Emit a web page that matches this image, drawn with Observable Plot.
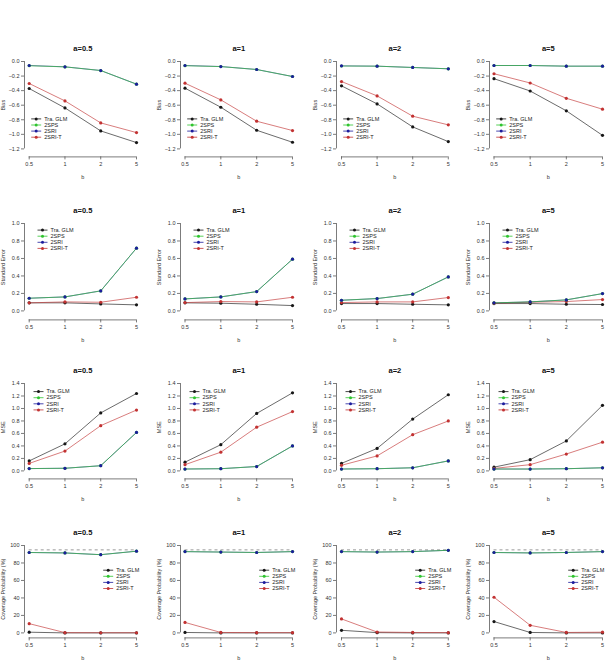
<!DOCTYPE html>
<html>
<head>
<meta charset="utf-8">
<script src="https://cdn.jsdelivr.net/npm/d3@7"></script>
<script src="https://cdn.jsdelivr.net/npm/@observablehq/plot@0.6"></script>
<style>
  body { margin: 0; background: #fff; }
  #grid { position: relative; width: 611px; height: 663px; overflow: hidden; background: #fff; }
  #grid svg { position: absolute; }
</style>
</head>
<body>
<div id="grid"></div>
<script>
// Categories
const bValues = ["0.5", "1", "2", "5"];
const aTitles = ["a=0.5", "a=1", "a=2", "a=5"];
const methods = ["Tra. GLM", "2SPS", "2SRI", "2SRI-T"];

// Bias: one inner array per a, values follow b
const biasTra   = [[-0.371, -0.637, -0.953, -1.113], [-0.366, -0.628, -0.944, -1.109], [-0.334, -0.582, -0.898, -1.100], [-0.236, -0.405, -0.677, -1.014]];
const bias2SPS  = [[-0.058, -0.074, -0.124, -0.311], [-0.058, -0.070, -0.110, -0.206], [-0.062, -0.064, -0.082, -0.100], [-0.055, -0.055, -0.064, -0.064]];
const bias2SRI  = [[-0.055, -0.073, -0.124, -0.311], [-0.055, -0.069, -0.110, -0.206], [-0.060, -0.064, -0.082, -0.100], [-0.055, -0.055, -0.064, -0.064]];
const bias2SRIT = [[-0.302, -0.541, -0.843, -0.976], [-0.298, -0.527, -0.820, -0.948], [-0.275, -0.472, -0.751, -0.870], [-0.168, -0.295, -0.505, -0.655]];

// Standard error
const seTra   = [[0.092, 0.092, 0.080, 0.069], [0.092, 0.088, 0.076, 0.061], [0.084, 0.084, 0.076, 0.069], [0.084, 0.084, 0.076, 0.073]];
const se2SPS  = [[0.145, 0.160, 0.229, 0.718], [0.137, 0.160, 0.221, 0.592], [0.122, 0.141, 0.191, 0.389], [0.092, 0.103, 0.126, 0.198]];
const se2SRI  = [[0.145, 0.160, 0.229, 0.718], [0.137, 0.160, 0.221, 0.592], [0.122, 0.141, 0.191, 0.389], [0.092, 0.103, 0.126, 0.198]];
const se2SRIT = [[0.092, 0.103, 0.099, 0.156], [0.095, 0.107, 0.103, 0.156], [0.095, 0.103, 0.103, 0.153], [0.088, 0.099, 0.107, 0.130]];

// Mean squared error
const mseTra   = [[0.160, 0.433, 0.929, 1.240], [0.140, 0.420, 0.920, 1.250], [0.120, 0.360, 0.830, 1.220], [0.060, 0.180, 0.480, 1.050]];
const mse2SPS  = [[0.037, 0.042, 0.083, 0.616], [0.030, 0.035, 0.070, 0.400], [0.030, 0.035, 0.050, 0.160], [0.030, 0.030, 0.035, 0.050]];
const mse2SRI  = [[0.037, 0.042, 0.083, 0.616], [0.030, 0.035, 0.070, 0.400], [0.030, 0.035, 0.050, 0.160], [0.030, 0.030, 0.035, 0.050]];
const mse2SRIT = [[0.120, 0.318, 0.725, 0.975], [0.100, 0.300, 0.700, 0.950], [0.090, 0.240, 0.580, 0.800], [0.040, 0.100, 0.270, 0.460]];

// Coverage probability (%)
const covTra   = [[0.8, 0, 0, 0], [0.5, 0, 0, 0], [3, 0.3, 0, 0], [13, 0.5, 0, 0]];
const cov2SPS  = [[92, 91.5, 89.5, 93.5], [93, 92.5, 92, 93], [93, 92.5, 93, 94.5], [92, 91.5, 92, 93]];
const cov2SRI  = [[92, 91.5, 89.5, 93.5], [93, 92.5, 92, 93], [93, 92.5, 93, 94.5], [92, 91.5, 92, 93]];
const cov2SRIT = [[10.6, 0.3, 0.2, 0.2], [12, 0.5, 0.3, 0.3], [16, 1, 0.5, 0.3], [40.8, 8.7, 0.5, 0.8]];
const nominalCoverage = 95;

// Row definitions: y label, axis extent, ticks and the series
const rows = [
  { label: "Bias", min: -1.2, max: 0, ticks: d3.range(-1.2, 0.01, 0.2), fmt: d3.format(".1f"),
    series: [biasTra, bias2SPS, bias2SRI, bias2SRIT] },
  { label: "Standard Error", min: 0, max: 1, ticks: d3.range(0, 1.01, 0.2), fmt: d3.format(".1f"),
    series: [seTra, se2SPS, se2SRI, se2SRIT] },
  { label: "MSE", min: 0, max: 1.4, ticks: d3.range(0, 1.41, 0.2), fmt: d3.format(".1f"),
    series: [mseTra, mse2SPS, mse2SRI, mse2SRIT] },
  { label: "Coverage Probability (%)", min: 0, max: 100, ticks: d3.range(0, 101, 20), fmt: d3.format("d"),
    series: [covTra, cov2SPS, cov2SRI, cov2SRIT], nominal: nominalCoverage }
];

// Page layout (pixels)
const colAxisX  = [24, 180, 335.5, 489];
const colFirstB = [28.7, 184.5, 340.5, 493.5];
const colLastB  = [136, 292, 447.3, 602];
const rowTopTick = [61.3, 222.7, 383.2, 545.3];
const tickSpan = 87.4;
const rowAxisGap = [8, 9, 8, 5];
// legend placement relative to the y axis line and top tick
const legendPos = [
  { x: 6.7, y: 57.4 },
  { x: 13, y: 6.6 },
  { x: 9, y: 8.1 },
  { x: 78.7, y: 24.7 }
];
const legendStep = 6.1;

const colors = { "Tra. GLM": "#161616", "2SPS": "#2fc42f", "2SRI": "#1c1c9c", "2SRI-T": "#c23232" };
const font = "'Liberation Sans', Arial, sans-serif";

const grid = document.getElementById("grid");

function panel(r, c) {
  const row = rows[r];
  const L = 30, T = 24, W = 150, H = 142;
  const x0 = colFirstB[c] - colAxisX[c] + L;
  const x1 = colLastB[c] - colAxisX[c] + L;
  const xs = d3.scaleLinear([0, 3], [x0, x1]);
  const ys = d3.scaleLinear([row.min, row.max], [T + tickSpan, T]);
  const xAxis = xs.invert(L);
  const yLine = ys.invert(T + tickSpan + rowAxisGap[r]);
  const yTickEnd = ys.invert(T + tickSpan + rowAxisGap[r] + 3);
  const tickLen = xs.invert(L) - xs.invert(L - 3);

  const data = methods.map((m, k) =>
    bValues.map((b, i) => ({ method: m, i, v: row.series[k][c][i] }))
  );
  const byName = Object.fromEntries(methods.map((m, k) => [m, data[k]]));

  const lineOrder = ["Tra. GLM", "2SRI-T", "2SRI", "2SPS"];
  const dotOrder = ["Tra. GLM", "2SRI-T", "2SPS", "2SRI"];

  // legend rows
  const lp = legendPos[r];
  const legend = methods.map((m, k) => ({
    method: m,
    xa: xs.invert(L + lp.x),
    xb: xs.invert(L + lp.x + 10),
    xm: xs.invert(L + lp.x + 5),
    xt: xs.invert(L + lp.x + 13),
    y: ys.invert(T + lp.y + k * legendStep)
  }));

  const marks = [
    // panel title
    Plot.text([aTitles[c]], { x: 1.5, y: row.max, dy: -13, fontWeight: "bold", fontSize: 7.5, fill: "#111" }),
    // y axis
    Plot.ruleX([xAxis], { y1: row.min, y2: row.max, stroke: "#444", strokeWidth: 0.7 }),
    Plot.ruleY(row.ticks, { x1: xAxis - tickLen, x2: xAxis, stroke: "#444", strokeWidth: 0.7 }),
    Plot.text(row.ticks, { x: xAxis, y: d => d, dx: -5, textAnchor: "end", text: d => row.fmt(d), fontSize: 5.5, fill: "#333" }),
    Plot.text([row.label], { x: xAxis, y: (row.min + row.max) / 2, dx: -21, rotate: -90, fontSize: 5.5, fill: "#333" }),
    // x axis
    Plot.ruleY([yLine], { x1: 0, x2: 3, stroke: "#444", strokeWidth: 0.7 }),
    Plot.ruleX([0, 1, 2, 3], { y1: yLine, y2: yTickEnd, stroke: "#444", strokeWidth: 0.7 }),
    Plot.text([0, 1, 2, 3], { x: d => d, y: yLine, dy: 7, text: i => bValues[i], fontSize: 5.5, fill: "#333" }),
    Plot.text(["b"], { x: 1.5, y: yLine, dy: 20, text: d => d, fontSize: 5.5, fill: "#333" })
  ];

  if (row.nominal != null) {
    marks.push(Plot.ruleY([row.nominal], { x1: 0, x2: 3, stroke: "#555", strokeWidth: 0.6, strokeDasharray: "3,3" }));
  }

  for (const m of lineOrder) {
    marks.push(Plot.line(byName[m], { x: "i", y: "v", stroke: colors[m], strokeWidth: 0.8, strokeOpacity: 0.8 }));
  }
  for (const m of dotOrder) {
    marks.push(Plot.dot(byName[m], { x: "i", y: "v", r: 1.6, fill: colors[m], stroke: "none" }));
  }

  // legend
  marks.push(
    Plot.link(legend, { x1: "xa", x2: "xb", y1: "y", y2: "y", stroke: d => colors[d.method], strokeWidth: 0.8 }),
    Plot.dot(legend, { x: "xm", y: "y", r: 1.5, fill: d => colors[d.method], stroke: "none" }),
    Plot.text(legend, { x: "xt", y: "y", text: "method", textAnchor: "start", fontSize: 5.5, fill: "#222" })
  );

  const svg = Plot.plot({
    width: W,
    height: H,
    margin: 0,
    x: { type: "linear", domain: [0, 3], range: [x0, x1], axis: null },
    y: { type: "linear", domain: [row.min, row.max], range: [T + tickSpan, T], axis: null },
    color: { type: "identity" },
    style: { background: "transparent", fontFamily: font, overflow: "visible" },
    marks
  });
  svg.style.left = (colAxisX[c] - L) + "px";
  svg.style.top = (rowTopTick[r] - T) + "px";
  grid.appendChild(svg);
}

for (let r = 0; r < 4; r++) {
  for (let c = 0; c < 4; c++) panel(r, c);
}
</script>
</body>
</html>
